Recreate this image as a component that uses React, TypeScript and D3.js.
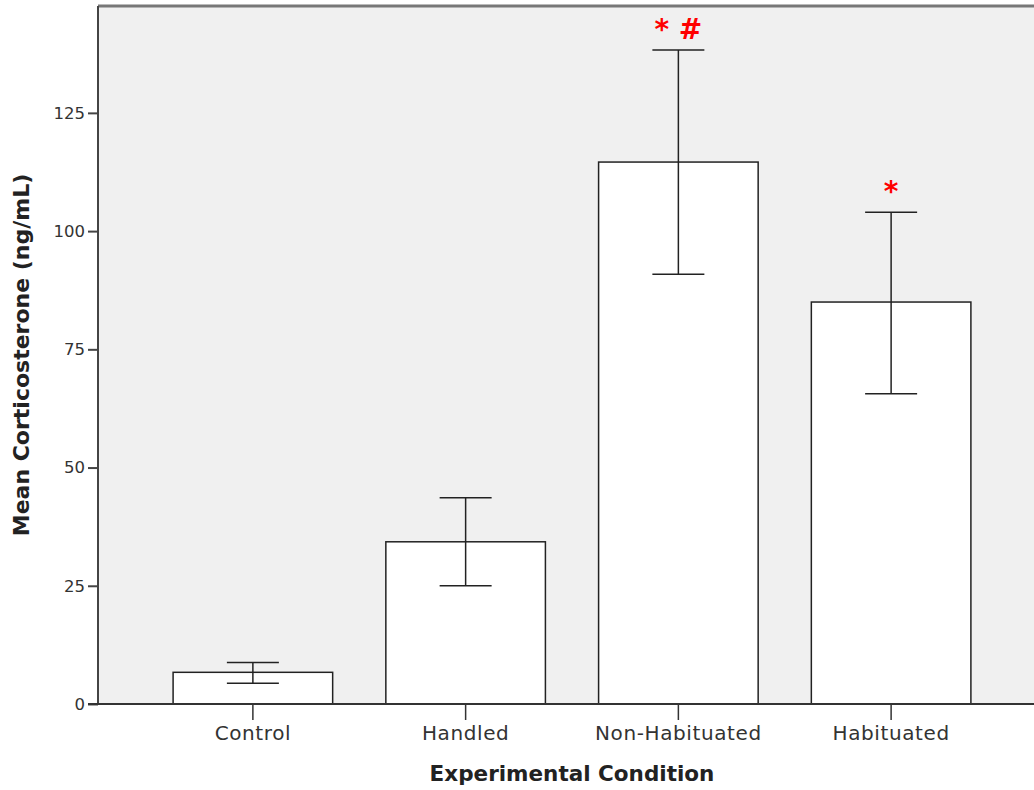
import React, { useEffect, useRef } from 'react';
import * as d3 from 'd3';

const categories = ['Control', 'Handled', 'Non-Habituated', 'Habituated'];
const means = [6.7, 34.3, 114.6, 85.0];
const upper = [8.8, 43.6, 138.3, 104.0];
const lower = [4.4, 25.0, 90.9, 65.6];
const marks = ['', '', '* #', '*'];
const yTicks = [0, 25, 50, 75, 100, 125];

const App = () => {
  const ref = useRef<SVGSVGElement>(null);

  useEffect(() => {
    const svg = d3.select(ref.current);
    svg.selectAll('*').remove();

    const left = 98, top = 6, bottom = 704, right = 1046;
    const font = '"DejaVu Sans", sans-serif';

    const x = d3.scaleBand().domain(categories).range([left, right])
      .paddingInner(0.25).paddingOuter(0.353);
    const y = d3.scaleLinear().domain([0, 147.6]).range([bottom, top]);

    svg.append('rect')
      .attr('x', left).attr('y', top)
      .attr('width', right - left).attr('height', bottom - top)
      .attr('fill', '#f0f0f0');

    const data = categories.map((c, i) => ({ c, m: means[i], hi: upper[i], lo: lower[i], mark: marks[i] }));

    svg.selectAll('.bar').data(data).enter().append('rect')
      .attr('x', (d) => x(d.c)!)
      .attr('y', (d) => y(d.m))
      .attr('width', x.bandwidth())
      .attr('height', (d) => bottom - y(d.m))
      .attr('fill', '#fff').attr('stroke', '#222').attr('stroke-width', 1.5);

    const cx = (d: any) => x(d.c)! + x.bandwidth() / 2;
    const err = svg.append('g').attr('stroke', '#222').attr('stroke-width', 1.5);
    data.forEach((d) => {
      err.append('line').attr('x1', cx(d)).attr('x2', cx(d)).attr('y1', y(d.hi)).attr('y2', y(d.lo));
      err.append('line').attr('x1', cx(d) - 26).attr('x2', cx(d) + 26).attr('y1', y(d.hi)).attr('y2', y(d.hi));
      err.append('line').attr('x1', cx(d) - 26).attr('x2', cx(d) + 26).attr('y1', y(d.lo)).attr('y2', y(d.lo));
    });

    svg.selectAll('.mark').data(data.filter((d) => d.mark)).enter().append('text')
      .attr('x', cx).attr('y', (d) => y(d.hi) - 11)
      .attr('text-anchor', 'middle')
      .attr('font-family', font).attr('font-weight', 'bold').attr('font-size', 28)
      .attr('fill', '#ff0000')
      .text((d) => d.mark);

    // frame
    svg.append('line').attr('x1', left).attr('x2', right).attr('y1', top).attr('y2', top)
      .attr('stroke', '#777').attr('stroke-width', 3);
    svg.append('line').attr('x1', left).attr('x2', left).attr('y1', top).attr('y2', bottom)
      .attr('stroke', '#444').attr('stroke-width', 2);

    const yAxis = svg.append('g').attr('transform', `translate(${left},0)`)
      .call(d3.axisLeft(y).tickValues(yTicks).tickSize(10).tickSizeOuter(0).tickPadding(3));
    yAxis.select('.domain').remove();
    yAxis.selectAll('line').attr('stroke', '#444').attr('stroke-width', 2);
    yAxis.selectAll('text').attr('font-family', font).attr('font-size', 16.5).attr('fill', '#333');

    const xAxis = svg.append('g').attr('transform', `translate(0,${bottom})`)
      .call(d3.axisBottom(x).tickSize(16).tickSizeOuter(0).tickPadding(6));
    xAxis.select('.domain').attr('stroke', '#333').attr('stroke-width', 2)
      .attr('d', `M${left - 10},0H${right}`);
    xAxis.selectAll('line').attr('stroke', '#333').attr('stroke-width', 1.5);
    xAxis.selectAll('text').attr('font-family', font).attr('font-size', 20)
      .attr('letter-spacing', 0.6).attr('fill', '#333');

    svg.append('text')
      .attr('x', 572).attr('y', 781)
      .attr('text-anchor', 'middle')
      .attr('font-family', font).attr('font-weight', 'bold').attr('font-size', 21.5).attr('fill', '#222')
      .text('Experimental Condition');

    svg.append('text')
      .attr('transform', 'translate(29,355) rotate(-90)')
      .attr('text-anchor', 'middle')
      .attr('font-family', font).attr('font-weight', 'bold').attr('font-size', 22).attr('fill', '#222')
      .text('Mean Corticosterone (ng/mL)');
  }, []);

  return (
    <svg ref={ref} width={1034} height={790}
      style={{ position: 'absolute', left: 0, top: 0, background: '#fff' }} />
  );
};

export default App;
